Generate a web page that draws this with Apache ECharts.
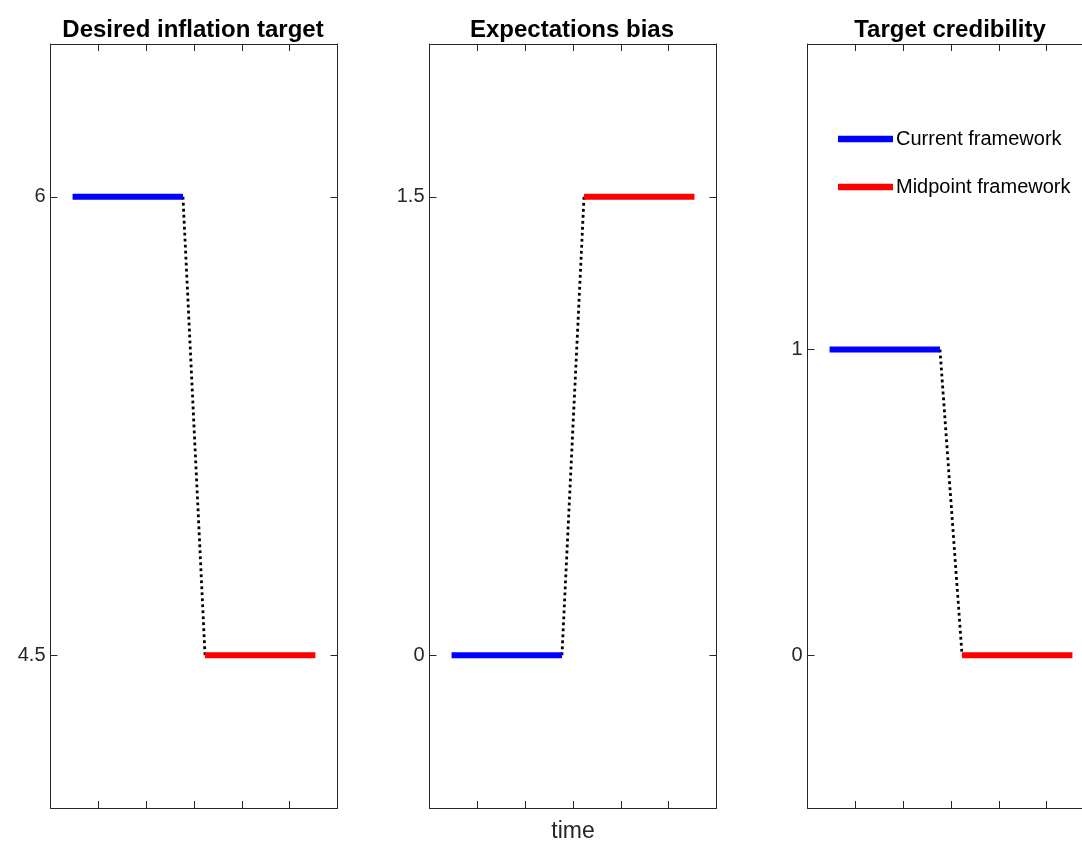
<!DOCTYPE html>
<html><head><meta charset="utf-8">
<script src="https://cdn.jsdelivr.net/npm/echarts@6/dist/echarts.min.js"></script>
<style>html,body{margin:0;padding:0;background:#fff}#c{width:1082px;height:841px}</style>
</head><body><div id="c"></div>
<script>
// ---- data ----
const panelTitles = ['Desired inflation target', 'Expectations bias', 'Target credibility'];
const currentPeriods = [1, 2, 3, 4, 5, 6];
const midpointPeriods = [7, 8, 9, 10, 11, 12];
const currentInflationTarget = [6, 6, 6, 6, 6, 6];
const midpointInflationTarget = [4.5, 4.5, 4.5, 4.5, 4.5, 4.5];
const currentExpectationsBias = [0, 0, 0, 0, 0, 0];
const midpointExpectationsBias = [1.5, 1.5, 1.5, 1.5, 1.5, 1.5];
const currentCredibility = [1, 1, 1, 1, 1, 1];
const midpointCredibility = [0, 0, 0, 0, 0, 0];
const yTicks1 = [4.5, 6];
const yTicks2 = [0, 1.5];
const yTicks3 = [0, 1];
const yRanges = [[4, 6.5], [-0.5, 2], [-0.5, 2]];
const xRange = [0, 13];
const legendNames = ['Current framework', 'Midpoint framework'];

const currentSets = [currentInflationTarget, currentExpectationsBias, currentCredibility];
const midpointSets = [midpointInflationTarget, midpointExpectationsBias, midpointCredibility];
const yTickSets = [yTicks1, yTicks2, yTicks3];

// ---- layout ----
const axisColor = '#262626';
const font = 'Liberation Sans, Arial, Helvetica, sans-serif';
const grids = [
  {left: 50.5, top: 44, width: 287, height: 764, containLabel: false, outerBoundsMode: 'none'},
  {left: 429.5, top: 44, width: 287, height: 764, containLabel: false, outerBoundsMode: 'none'},
  {left: 807.5, top: 44, width: 287, height: 764, containLabel: false, outerBoundsMode: 'none'}
];

const xAxes = [], yAxes = [], series = [], titles = [];
grids.forEach((g, i) => {
  const tickCommon = {show: true, inside: true, length: 7, lineStyle: {color: axisColor, width: 1}};
  const lineCommon = {show: true, onZero: false, lineStyle: {color: axisColor, width: 1}};
  xAxes.push({
    type: 'value', gridIndex: i, position: 'bottom', min: xRange[0], max: xRange[1],
    interval: (xRange[1] - xRange[0]) / 6,
    axisLine: lineCommon, axisTick: tickCommon, axisLabel: {show: false}, splitLine: {show: false},
    name: i === 1 ? 'time' : '', nameLocation: 'middle', nameGap: 12,
    nameTextStyle: {color: axisColor, fontSize: 23, fontFamily: font}
  });
  xAxes.push({
    type: 'value', gridIndex: i, position: 'top', min: xRange[0], max: xRange[1],
    interval: (xRange[1] - xRange[0]) / 6,
    axisLine: lineCommon, axisTick: tickCommon, axisLabel: {show: false}, splitLine: {show: false}
  });
  yAxes.push({
    type: 'value', gridIndex: i, position: 'left', min: yRanges[i][0], max: yRanges[i][1],
    axisLine: lineCommon,
    axisTick: Object.assign({}, tickCommon, {customValues: yTickSets[i]}),
    axisLabel: {show: true, customValues: yTickSets[i], color: axisColor, fontSize: 20, fontFamily: font, margin: 5},
    splitLine: {show: false}
  });
  yAxes.push({
    type: 'value', gridIndex: i, position: 'right', min: yRanges[i][0], max: yRanges[i][1],
    axisLine: lineCommon,
    axisTick: Object.assign({}, tickCommon, {customValues: yTickSets[i]}),
    axisLabel: {show: false}, splitLine: {show: false}
  });
  titles.push({
    text: panelTitles[i], left: g.left + g.width / 2 - 1, top: 18, textAlign: 'center', padding: 0,
    textStyle: {fontSize: 24, fontWeight: 'bold', color: '#000', fontFamily: font}
  });
  const cur = currentSets[i], mid = midpointSets[i];
  series.push({
    name: legendNames[0], type: 'line', xAxisIndex: 2 * i, yAxisIndex: 2 * i,
    data: currentPeriods.map((p, k) => [p, cur[k]]), showSymbol: false, symbol: 'none',
    lineStyle: {color: '#0000ff', width: 6, cap: 'butt'}, itemStyle: {color: '#0000ff'}, z: 3, silent: true
  });
  series.push({
    name: legendNames[1], type: 'line', xAxisIndex: 2 * i, yAxisIndex: 2 * i,
    data: midpointPeriods.map((p, k) => [p, mid[k]]), showSymbol: false, symbol: 'none',
    lineStyle: {color: '#ff0000', width: 6, cap: 'butt'}, itemStyle: {color: '#ff0000'}, z: 3, silent: true
  });
  series.push({
    name: 'transition', type: 'line', xAxisIndex: 2 * i, yAxisIndex: 2 * i,
    data: [[currentPeriods[currentPeriods.length - 1], cur[cur.length - 1]], [midpointPeriods[0], mid[0]]],
    showSymbol: false, symbol: 'none',
    lineStyle: {color: '#000', width: 2.8, type: [2.8, 3.2]}, z: 2, silent: true
  });
});

const chart = echarts.init(document.getElementById('c'), null, {renderer: 'canvas'});
chart.setOption({
  animation: false,
  backgroundColor: '#fff',
  title: titles,
  grid: grids,
  xAxis: xAxes,
  yAxis: yAxes,
  legend: {
    data: legendNames, orient: 'vertical', left: 838, top: 125, padding: 0,
    icon: 'rect', itemWidth: 55, itemHeight: 6.5, itemGap: 20,
    textStyle: {color: '#000', fontSize: 20, fontFamily: font, lineHeight: 24, padding: [4, 0, 0, -2]},
    selectedMode: false
  },
  series: series
});
</script></body></html>
